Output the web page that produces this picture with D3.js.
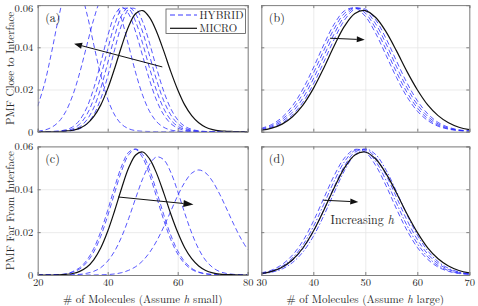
<!DOCTYPE html>
<html><head><meta charset="utf-8">
<script src="https://cdn.jsdelivr.net/npm/d3@7"></script>
<style>
body{margin:0;background:#fff}
svg{display:block}
text{font-family:"Latin Modern Roman","CMU Serif","Liberation Serif","Times New Roman",serif;}
</style></head>
<body><svg id="chart" width="478" height="306"></svg>
<script>
// ---------- data ----------
const xWide   = [20,22,24,26,28,30,32,34,36,38,40,42,44,46,48,50,52,54,56,58,60,62,64,66,68,70,72,74,76,78,80];
const xNarrow = [30,32,34,36,38,40,42,44,46,48,50,52,54,56,58,60,62,64,66,68,70];

// MICRO (same reference curve in every panel), sampled on xWide
const micro = [0,0,0,0.0001,0.0003,0.0007,0.0017,0.0036,0.0071,0.0126,0.0204,0.0301,0.0406,0.0500,0.0560,0.0574,0.0541,0.0473,0.0383,0.0286,0.0199,0.0127,0.0076,0.0042,0.0021,0.0010,0.0004,0.0002,0.0001,0,0];

// (a) HYBRID, close to interface, small h (xWide)
const hybA1 = [0.0121,0.0230,0.0379,0.0542,0.0670,0.0720,0.0677,0.0563,0.0414,0.0269,0.0155,0.0079,0.0035,0.0014,0.0005,0.0002,0.0001,0,0,0,0,0,0,0,0,0,0,0,0,0,0];
const hybA2 = [0.0003,0.0008,0.0021,0.0047,0.0095,0.0172,0.0279,0.0407,0.0532,0.0625,0.0660,0.0625,0.0532,0.0407,0.0279,0.0172,0.0095,0.0047,0.0021,0.0008,0.0003,0.0001,0,0,0,0,0,0,0,0,0];
const hybA3 = [0,0,0.0001,0.0003,0.0009,0.0023,0.0055,0.0113,0.0205,0.0325,0.0453,0.0552,0.0590,0.0558,0.0472,0.0358,0.0243,0.0147,0.0080,0.0039,0.0017,0.0007,0.0002,0.0001,0,0,0,0,0,0,0];
const hybA4 = [0,0,0.0001,0.0002,0.0005,0.0014,0.0036,0.0080,0.0155,0.0262,0.0390,0.0508,0.0580,0.0582,0.0521,0.0417,0.0299,0.0192,0.0110,0.0056,0.0026,0.0011,0.0004,0.0001,0,0,0,0,0,0,0];
const hybA5 = [0,0,0,0.0001,0.0003,0.0009,0.0023,0.0055,0.0113,0.0205,0.0325,0.0453,0.0552,0.0590,0.0558,0.0472,0.0358,0.0243,0.0147,0.0080,0.0039,0.0017,0.0007,0.0002,0.0001,0,0,0,0,0,0];
const hybA6 = [0,0,0,0.0001,0.0002,0.0005,0.0014,0.0036,0.0080,0.0155,0.0262,0.0390,0.0508,0.0580,0.0582,0.0521,0.0417,0.0299,0.0192,0.0110,0.0056,0.0026,0.0011,0.0004,0.0001,0,0,0,0,0,0];

// (b) HYBRID, close to interface, large h (xNarrow)
const hybB1 = [0.0016,0.0034,0.0068,0.0123,0.0202,0.0302,0.0411,0.0509,0.0573,0.0586,0.0547,0.0466,0.0362,0.0257,0.0166,0.0098,0.0053,0.0026,0.0012,0.0005,0.0002];
const hybB2 = [0.0013,0.0028,0.0058,0.0107,0.0180,0.0276,0.0384,0.0487,0.0561,0.0588,0.0562,0.0489,0.0389,0.0282,0.0187,0.0113,0.0062,0.0031,0.0014,0.0006,0.0002];
const hybB3 = [0.0010,0.0023,0.0049,0.0093,0.0159,0.0250,0.0357,0.0463,0.0546,0.0586,0.0573,0.0511,0.0416,0.0308,0.0209,0.0129,0.0073,0.0037,0.0017,0.0007,0.0003];
const hybB4 = [0.0008,0.0019,0.0041,0.0080,0.0140,0.0225,0.0329,0.0437,0.0529,0.0581,0.0581,0.0530,0.0441,0.0335,0.0232,0.0147,0.0085,0.0044,0.0021,0.0009,0.0004];

// (c) HYBRID, far from interface, small h (xWide)
const hybC1 = [0,0,0.0001,0.0002,0.0004,0.0016,0.0034,0.0068,0.0123,0.0202,0.0302,0.0411,0.0509,0.0573,0.0586,0.0547,0.0466,0.0362,0.0257,0.0166,0.0098,0.0053,0.0026,0.0012,0.0005,0.0002,0.0001,0,0,0,0];
const hybC2 = [0,0,0.0001,0.0002,0.0005,0.0013,0.0028,0.0058,0.0107,0.0180,0.0276,0.0384,0.0487,0.0561,0.0588,0.0562,0.0489,0.0389,0.0282,0.0187,0.0113,0.0062,0.0031,0.0014,0.0006,0.0002,0.0001,0,0,0,0];
const hybC3 = [0,0,0,0,0,0.0001,0.0003,0.0008,0.0017,0.0034,0.0065,0.0112,0.0179,0.0264,0.0359,0.0449,0.0518,0.0551,0.0538,0.0480,0.0390,0.0289,0.0196,0.0121,0.0068,0.0035,0.0016,0.0007,0.0003,0.0001,0];
const hybC4 = [0,0,0,0,0,0,0,0,0,0.0001,0.0002,0.0005,0.0011,0.0022,0.0039,0.0066,0.0106,0.0159,0.0224,0.0297,0.0370,0.0432,0.0475,0.0490,0.0476,0.0436,0.0377,0.0308,0.0237,0.0172,0.0118];

// (d) HYBRID, far from interface, large h (xNarrow)
const hybD1 = [0.0010,0.0023,0.0049,0.0093,0.0159,0.0250,0.0357,0.0463,0.0546,0.0586,0.0573,0.0511,0.0416,0.0308,0.0209,0.0129,0.0073,0.0037,0.0017,0.0007,0.0003];
const hybD2 = [0.0008,0.0019,0.0041,0.0080,0.0140,0.0225,0.0329,0.0437,0.0529,0.0581,0.0581,0.0530,0.0441,0.0335,0.0232,0.0147,0.0085,0.0044,0.0021,0.0009,0.0004];
const hybD3 = [0.0007,0.0016,0.0034,0.0068,0.0123,0.0202,0.0302,0.0411,0.0509,0.0573,0.0586,0.0547,0.0466,0.0362,0.0257,0.0166,0.0098,0.0053,0.0026,0.0012,0.0005];
const hybD4 = [0.0005,0.0013,0.0028,0.0058,0.0107,0.0180,0.0276,0.0384,0.0487,0.0561,0.0588,0.0562,0.0489,0.0389,0.0282,0.0187,0.0113,0.0062,0.0031,0.0014,0.0006];

const yTicks = [0, 0.02, 0.04, 0.06];
const xTicksSmall = [20, 40, 60, 80];
const xTicksLarge = [30, 40, 50, 60, 70];
const panelLabels = ["(a)", "(b)", "(c)", "(d)"];
const yTitles = ["PMF Close to Interface", "PMF Far From Interface"];
const legendLabels = ["HYBRID", "MICRO"];
// arrows [x1,y1,x2,y2] in data units (tail -> head)
const arrows = [[55.6,0.0307,30.4,0.0417],[43.2,0.0443,49.9,0.0436],[43.0,0.0364,64.5,0.0329],[41.9,0.0349,48.65,0.0341]];

// ---------- drawing ----------
const svg = d3.select("#chart");
const BLUE = "#2323ff";
const FONT = '"Latin Modern Roman","CMU Serif","Liberation Serif",serif';
const boxes = [
  {l:37.7, r:247.7, t:5.1, b:131.7},
  {l:261.3, r:469.3, t:5.1, b:131.7},
  {l:37.7, r:247.7, t:146.4, b:275},
  {l:261.3, r:469.3, t:146.4, b:275}
];
const panels = [
  {xs:xWide,   hyb:[hybA1,hybA2,hybA3,hybA4,hybA5,hybA6], dom:[20,80], ticks:xTicksSmall},
  {xs:xNarrow, hyb:[hybB1,hybB2,hybB3,hybB4],             dom:[30,70], ticks:xTicksLarge},
  {xs:xWide,   hyb:[hybC1,hybC2,hybC3,hybC4],             dom:[20,80], ticks:xTicksSmall},
  {xs:xNarrow, hyb:[hybD1,hybD2,hybD3,hybD4],             dom:[30,70], ticks:xTicksLarge}
];
const defs = svg.append("defs");

panels.forEach((p, i) => {
  const bx = boxes[i];
  const x = d3.scaleLinear().domain(p.dom).range([bx.l, bx.r]);
  const y = d3.scaleLinear().domain([0, 0.06]).range([bx.b, bx.t]);
  const g = svg.append("g");
  const isLeft = (i % 2 === 0), isBottom = (i >= 2);

  // grid
  g.append("g").attr("transform", `translate(0,${bx.b})`)
    .call(d3.axisBottom(x).tickValues(p.ticks).tickSize(-(bx.b - bx.t)).tickFormat(""))
    .call(s => s.select(".domain").remove())
    .call(s => s.selectAll("line").attr("stroke", "#e6e6e6").attr("stroke-width", 0.8));
  g.append("g").attr("transform", `translate(${bx.l},0)`)
    .call(d3.axisLeft(y).tickValues(yTicks).tickSize(-(bx.r - bx.l)).tickFormat(""))
    .call(s => s.select(".domain").remove())
    .call(s => s.selectAll("line").attr("stroke", "#e6e6e6").attr("stroke-width", 0.8));

  // clip
  defs.append("clipPath").attr("id", "clip" + i).append("rect")
    .attr("x", bx.l).attr("y", bx.t).attr("width", bx.r - bx.l).attr("height", bx.b - bx.t);
  const plot = g.append("g").attr("clip-path", `url(#clip${i})`);

  const line = xs => d3.line().x((d, k) => x(xs[k])).y(d => y(d)).curve(d3.curveCatmullRom.alpha(0.5));

  p.hyb.forEach((vals, k) => {
    plot.append("path").datum(vals).attr("d", line(p.xs))
      .attr("fill", "none").attr("stroke", BLUE).attr("stroke-width", 0.9)
      .attr("stroke-opacity", 0.85)
      .attr("stroke-dasharray", (i === 3 && k % 2 === 1) ? "5,2,1.5,2" : "5,3");
  });
  plot.append("path").datum(micro).attr("d", line(xWide))
    .attr("fill", "none").attr("stroke", "#111").attr("stroke-width", 1.2);

  // axes (inward ticks, box)
  const xa = g.append("g").attr("transform", `translate(0,${bx.b})`)
    .call(d3.axisBottom(x).tickValues(p.ticks).tickSize(-3).tickPadding(4)
      .tickFormat(isBottom ? d3.format("d") : ""));
  const xt = g.append("g").attr("transform", `translate(0,${bx.t})`)
    .call(d3.axisTop(x).tickValues(p.ticks).tickSize(-3).tickFormat(""));
  const ya = g.append("g").attr("transform", `translate(${bx.l},0)`)
    .call(d3.axisLeft(y).tickValues(yTicks).tickSize(-3).tickPadding(4.5)
      .tickFormat(isLeft ? (d => d === 0 ? "0" : d3.format(".2f")(d)) : ""));
  const yr = g.append("g").attr("transform", `translate(${bx.r},0)`)
    .call(d3.axisRight(y).tickValues(yTicks).tickSize(-3).tickFormat(""));
  [xa, xt, ya, yr].forEach(a => {
    a.select(".domain").attr("stroke", "#808080").attr("stroke-width", 1);
    a.selectAll(".tick line").attr("stroke", "#808080");
    a.selectAll("text").attr("fill", "#262626").style("font-size", "10.5px").style("font-family", FONT);
  });
  // keep the top "0.06" label of the upper panel inside the page
  if (i === 0) ya.selectAll(".tick text").filter(d => d === 0.06).attr("dy", "0.62em");

  // panel label
  g.append("text").attr("x", bx.l + 7.5).attr("y", bx.t + 17)
    .attr("font-size", 12).attr("fill", "#262626").text(panelLabels[i]);

  // arrow
  const a = arrows[i];
  const x1 = x(a[0]), y1 = y(a[1]), x2 = x(a[2]), y2 = y(a[3]);
  const ang = Math.atan2(y2 - y1, x2 - x1);
  const hl = i === 2 ? 10 : 8, hw = i === 2 ? 3.6 : 3;
  const bxp = x2 - hl * Math.cos(ang), byp = y2 - hl * Math.sin(ang);
  g.append("line").attr("x1", x1).attr("y1", y1).attr("x2", bxp).attr("y2", byp)
    .attr("stroke", "#111").attr("stroke-width", 1);
  g.append("path").attr("d", `M${x2},${y2}L${bxp - hw*Math.sin(ang)},${byp + hw*Math.cos(ang)}L${bxp + hw*Math.sin(ang)},${byp - hw*Math.cos(ang)}Z`)
    .attr("fill", "#111");

  if (i === 3) {
    const t = g.append("text").attr("x", x(49.4)).attr("y", y(0.0237))
      .attr("text-anchor", "middle").attr("font-size", 12).attr("fill", "#262626");
    t.append("tspan").text("Increasing ");
    t.append("tspan").attr("font-style", "italic").text("h");
  }

  if (isBottom) {
    const t = g.append("text").attr("x", (bx.l + bx.r) / 2).attr("y", 303)
      .attr("text-anchor", "middle").attr("font-size", 11).attr("fill", "#262626");
    t.append("tspan").text("# of Molecules (Assume ");
    t.append("tspan").attr("font-style", "italic").text("h");
    t.append("tspan").text(i === 2 ? " small)" : " large)");
  }
  if (isLeft) {
    g.append("text").attr("transform", `translate(14,${(bx.t + bx.b) / 2}) rotate(-90)`)
      .attr("text-anchor", "middle").attr("font-size", 11).attr("fill", "#262626")
      .text(yTitles[i / 2]);
  }

  if (i === 0) {
    const lg = g.append("g");
    lg.append("rect").attr("x", 166).attr("y", 9).attr("width", 79.5).attr("height", 24.5)
      .attr("fill", "#fff").attr("stroke", "#555").attr("stroke-width", 0.8);
    lg.append("line").attr("x1", 170).attr("x2", 197).attr("y1", 15).attr("y2", 15)
      .attr("stroke", BLUE).attr("stroke-width", 0.9).attr("stroke-dasharray", "5,3");
    lg.append("line").attr("x1", 170).attr("x2", 197).attr("y1", 28.3).attr("y2", 28.3)
      .attr("stroke", "#111").attr("stroke-width", 1.2);
    legendLabels.forEach((l, k) => lg.append("text").attr("x", 199.5).attr("y", 18.8 + k * 13.6)
      .attr("font-size", 10.8).attr("fill", "#262626").text(l));
  }
});
</script></body></html>
